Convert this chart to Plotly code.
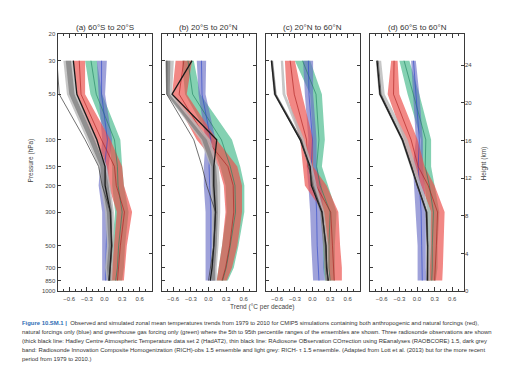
import plotly.graph_objects as go
import math

W, H = 518, 373

# ---------------- data ----------------
PRESSURE = [30, 50, 100, 150, 200, 300, 500, 700, 850]
P_TICKS = [20, 30, 50, 100, 150, 200, 300, 500, 700, 850, 1000]
KM_TICKS = [0, 4, 8, 12, 16, 20, 24]
X_TICKVALS = [-0.6, -0.3, 0.0, 0.3, 0.6]
X_TICKTEXT = ["\u22120.6", "\u22120.3", "0.0", "0.3", "0.6"]
PANEL_TITLES = ["(a) 60°S to 20°S", "(b) 20°S to 20°N", "(c) 20°N to 60°N", "(d) 60°S to 60°N"]

# (a) 60S-20S
A_RED_LO = [-0.53, -0.47, -0.21, 0.04, 0.07, 0.21, 0.16, 0.13, 0.10]
A_RED_HI = [-0.33, -0.33, 0.10, 0.30, 0.33, 0.47, 0.38, 0.35, 0.33]
A_RED_MID = [-0.43, -0.40, -0.05, 0.17, 0.20, 0.34, 0.27, 0.24, 0.22]
A_BLUE_LO = [-0.13, -0.10, -0.04, -0.07, -0.10, -0.04, -0.04, -0.04, -0.04]
A_BLUE_HI = [0.04, 0.01, 0.13, 0.07, 0.07, 0.13, 0.10, 0.10, 0.07]
A_BLUE_MID = [-0.05, -0.05, 0.05, 0.00, -0.02, 0.05, 0.03, 0.03, 0.02]
A_GREEN_LO = [-0.33, -0.24, 0.07, 0.13, 0.13, 0.18, 0.13, 0.10, 0.07]
A_GREEN_HI = [-0.13, -0.04, 0.27, 0.30, 0.33, 0.41, 0.35, 0.33, 0.30]
A_GREEN_MID = [-0.23, -0.14, 0.17, 0.22, 0.23, 0.30, 0.24, 0.22, 0.19]
A_LGREY_LO = [-0.70, -0.64, -0.30, -0.10, -0.07, 0.01, 0.04, 0.01, 0.04]
A_LGREY_HI = [-0.53, -0.47, -0.13, 0.04, 0.10, 0.16, 0.16, 0.14, 0.13]
A_DGREY_LO = [-0.66, -0.60, -0.26, -0.07, -0.04, 0.04, 0.07, 0.04, 0.06]
A_DGREY_HI = [-0.57, -0.51, -0.17, 0.01, 0.07, 0.13, 0.13, 0.11, 0.11]
A_HADAT2 = [-0.53, -0.47, -0.13, 0.01, 0.01, 0.10, 0.12, 0.10, 0.08]
A_RAOBCORE = [-0.81, -0.77, -0.33, -0.10, -0.04, 0.10, 0.13, 0.10, 0.07]

# (b) 20S-20N
B_RED_LO = [-0.56, -0.62, -0.20, 0.17, 0.26, 0.29, 0.23, 0.17, 0.14]
B_RED_HI = [-0.28, -0.37, 0.14, 0.49, 0.57, 0.57, 0.49, 0.40, 0.31]
B_RED_MID = [-0.42, -0.50, -0.03, 0.33, 0.42, 0.43, 0.36, 0.29, 0.23]
B_BLUE_LO = [-0.20, -0.17, -0.05, -0.08, -0.08, -0.05, -0.05, -0.05, -0.05]
B_BLUE_HI = [-0.04, -0.05, 0.12, 0.09, 0.12, 0.12, 0.12, 0.12, 0.12]
B_BLUE_MID = [-0.12, -0.11, 0.04, 0.01, 0.02, 0.04, 0.04, 0.04, 0.04]
B_GREEN_LO = [-0.45, -0.40, 0.03, 0.20, 0.29, 0.31, 0.23, 0.17, 0.14]
B_GREEN_HI = [-0.25, -0.14, 0.40, 0.54, 0.61, 0.61, 0.51, 0.43, 0.33]
B_GREEN_MID = [-0.35, -0.27, 0.22, 0.37, 0.45, 0.46, 0.37, 0.30, 0.24]
B_LGREY_LO = [-0.74, -0.72, -0.14, 0.03, 0.03, 0.06, 0.06, 0.03, 0.03]
B_LGREY_HI = [-0.59, -0.62, 0.03, 0.17, 0.20, 0.20, 0.17, 0.14, 0.14]
B_DGREY_LO = [-0.72, -0.71, -0.11, 0.05, 0.06, 0.09, 0.08, 0.05, 0.05]
B_DGREY_HI = [-0.65, -0.66, -0.03, 0.13, 0.15, 0.16, 0.14, 0.11, 0.11]
B_HADAT2 = [-0.28, -0.62, 0.14, 0.09, 0.09, 0.12, 0.09, 0.06, 0.03]
B_RAOBCORE = [-0.71, -0.71, -0.25, -0.11, -0.03, 0.12, 0.09, 0.03, 0.00]

# (c) 20N-60N
C_RED_LO = [-0.47, -0.44, -0.21, -0.16, -0.13, 0.18, 0.21, 0.21, 0.24]
C_RED_HI = [-0.30, -0.18, 0.01, 0.01, 0.24, 0.44, 0.47, 0.50, 0.50]
C_RED_MID = [-0.38, -0.31, -0.10, -0.08, 0.06, 0.31, 0.34, 0.36, 0.37]
C_BLUE_LO = [-0.16, -0.13, -0.07, -0.10, -0.07, -0.04, -0.02, 0.00, 0.01]
C_BLUE_HI = [0.01, 0.01, 0.07, 0.07, 0.16, 0.18, 0.18, 0.20, 0.21]
C_BLUE_MID = [-0.07, -0.06, 0.00, -0.02, 0.05, 0.07, 0.08, 0.10, 0.11]
C_GREEN_LO = [-0.30, -0.04, 0.01, -0.02, -0.02, 0.18, 0.18, 0.18, 0.21]
C_GREEN_HI = [-0.04, 0.16, 0.21, 0.16, 0.27, 0.41, 0.38, 0.38, 0.38]
C_GREEN_MID = [-0.17, 0.06, 0.11, 0.07, 0.13, 0.30, 0.28, 0.28, 0.30]
C_LGREY_LO = [-0.54, -0.51, -0.20, -0.05, 0.01, 0.13, 0.20, 0.21, 0.22]
C_LGREY_HI = [-0.50, -0.46, -0.14, 0.00, 0.07, 0.20, 0.27, 0.27, 0.29]
C_DGREY_LO = [-0.71, -0.66, -0.22, -0.07, -0.02, 0.13, 0.18, 0.21, 0.22]
C_DGREY_HI = [-0.67, -0.61, -0.18, -0.03, 0.03, 0.17, 0.24, 0.26, 0.27]
C_HADAT2 = [-0.70, -0.64, -0.21, -0.04, -0.02, 0.16, 0.23, 0.24, 0.27]
C_RAOBCORE = [-0.69, -0.63, -0.19, -0.06, 0.00, 0.17, 0.22, 0.25, 0.26]

# (d) 60S-60N
D_RED_LO = [-0.44, -0.50, -0.22, -0.10, 0.07, 0.24, 0.21, 0.18, 0.18]
D_RED_HI = [-0.33, -0.30, 0.01, 0.13, 0.30, 0.47, 0.45, 0.44, 0.43]
D_RED_MID = [-0.39, -0.40, -0.10, 0.02, 0.19, 0.35, 0.33, 0.31, 0.30]
D_BLUE_LO = [-0.10, -0.07, -0.02, -0.07, -0.05, -0.02, 0.01, 0.01, 0.01]
D_BLUE_HI = [-0.02, 0.04, 0.10, 0.10, 0.13, 0.15, 0.15, 0.15, 0.16]
D_BLUE_MID = [-0.06, -0.02, 0.04, 0.02, 0.04, 0.07, 0.08, 0.08, 0.09]
D_GREEN_LO = [-0.30, -0.16, 0.07, 0.04, 0.13, 0.18, 0.18, 0.18, 0.18]
D_GREEN_HI = [-0.13, 0.04, 0.24, 0.24, 0.30, 0.38, 0.35, 0.35, 0.32]
D_GREEN_MID = [-0.22, -0.06, 0.15, 0.14, 0.21, 0.28, 0.26, 0.26, 0.25]
D_LGREY_LO = [-0.65, -0.60, -0.23, -0.09, 0.01, 0.18, 0.18, 0.18, 0.18]
D_LGREY_HI = [-0.61, -0.55, -0.16, -0.02, 0.07, 0.24, 0.24, 0.22, 0.22]
D_DGREY_LO = [-0.70, -0.65, -0.27, -0.12, -0.02, 0.14, 0.16, 0.16, 0.16]
D_DGREY_HI = [-0.67, -0.61, -0.23, -0.08, 0.02, 0.18, 0.20, 0.19, 0.19]
D_HADAT2 = [-0.68, -0.63, -0.25, -0.10, 0.00, 0.16, 0.18, 0.18, 0.18]
D_RAOBCORE = [-0.66, -0.61, -0.24, -0.09, 0.00, 0.17, 0.18, 0.17, 0.17]

CAPTION_LINES = [
    "<span style='color:#2e6db4'><b>Figure 10.SM.1 |</b></span>  Observed and simulated zonal mean temperatures trends from 1979 to 2010 for CMIP5 simulations containing both anthropogenic and natural forcings (red),",
    "natural forcings only (blue) and greenhouse gas forcing only (green) where the 5th to 95th percentile ranges of the ensembles are shown. Three radiosonde observations are shown",
    "(thick black line: Hadley Centre Atmospheric Temperature data set 2 (HadAT2), thin black line: RAdiosone OBservation COrrection using REanalyses (RAOBCORE) 1.5, dark grey",
    "band: Radiosonde Innovation Composite Homogenization (RICH)-obs 1.5 ensemble and light grey: RICH- \u03c4 1.5 ensemble. (Adapted from Lott et al. (2013) but for the more recent",
    "period from 1979 to 2010.)",
]

PANELS = [
    dict(red=(A_RED_LO, A_RED_HI, A_RED_MID), blue=(A_BLUE_LO, A_BLUE_HI, A_BLUE_MID),
         green=(A_GREEN_LO, A_GREEN_HI, A_GREEN_MID), lgrey=(A_LGREY_LO, A_LGREY_HI),
         dgrey=(A_DGREY_LO, A_DGREY_HI), had=A_HADAT2, raob=A_RAOBCORE),
    dict(red=(B_RED_LO, B_RED_HI, B_RED_MID), blue=(B_BLUE_LO, B_BLUE_HI, B_BLUE_MID),
         green=(B_GREEN_LO, B_GREEN_HI, B_GREEN_MID), lgrey=(B_LGREY_LO, B_LGREY_HI),
         dgrey=(B_DGREY_LO, B_DGREY_HI), had=B_HADAT2, raob=B_RAOBCORE),
    dict(red=(C_RED_LO, C_RED_HI, C_RED_MID), blue=(C_BLUE_LO, C_BLUE_HI, C_BLUE_MID),
         green=(C_GREEN_LO, C_GREEN_HI, C_GREEN_MID), lgrey=(C_LGREY_LO, C_LGREY_HI),
         dgrey=(C_DGREY_LO, C_DGREY_HI), had=C_HADAT2, raob=C_RAOBCORE),
    dict(red=(D_RED_LO, D_RED_HI, D_RED_MID), blue=(D_BLUE_LO, D_BLUE_HI, D_BLUE_MID),
         green=(D_GREEN_LO, D_GREEN_HI, D_GREEN_MID), lgrey=(D_LGREY_LO, D_LGREY_HI),
         dgrey=(D_DGREY_LO, D_DGREY_HI), had=D_HADAT2, raob=D_RAOBCORE),
]

# ---------------- style ----------------
FONT = "Liberation Sans, Arial, sans-serif"
CAP_FONT = "Liberation Sans, Arial, sans-serif"
AX_COL = "#3a3a3a"
TXT_COL = "#444444"
STYLE = {
    "green": ("rgba(80,190,145,0.70)", "rgba(30,130,95,0.9)"),
    "blue": ("rgba(100,105,195,0.62)", "rgba(45,70,200,0.9)"),
    "red": ("rgba(236,80,75,0.68)", "rgba(170,30,30,0.9)"),
    "lgrey": ("rgba(185,185,185,0.80)", None),
    "dgrey": ("rgba(125,125,125,0.75)", None),
}

X_DOM_PX = [(57.5, 151.5), (161.5, 255.5), (265.5, 359.5), (370.0, 464.0)]
Y_TOP_PX, Y_BOT_PX = 31.5, 293.0
y_dom = [1 - Y_BOT_PX / H, 1 - Y_TOP_PX / H]
KM_TOP = 27.3

fig = go.Figure()
layout = dict(width=W, height=H, margin=dict(l=0, r=0, t=0, b=0),
              paper_bgcolor="white", plot_bgcolor="white", showlegend=False,
              font=dict(family=FONT, size=6, color=TXT_COL))
annotations = []

for i, pan in enumerate(PANELS):
    n = i + 1
    xa = "x" if n == 1 else f"x{n}"
    ya = "y" if n == 1 else f"y{n}"
    ykm_n = n + 4
    x0, x1 = X_DOM_PX[i]
    dom = [x0 / W, x1 / W]

    def band(lo, hi, fillc):
        fig.add_trace(go.Scatter(x=list(lo) + list(hi)[::-1],
                                 y=PRESSURE + PRESSURE[::-1],
                                 fill="toself", fillcolor=fillc, mode="lines",
                                 line=dict(width=0), hoverinfo="skip",
                                 xaxis=xa, yaxis=ya))

    for key in ["green", "blue", "red"]:
        lo, hi, mid = pan[key]
        band(lo, hi, STYLE[key][0])
    for key in ["green", "blue", "red"]:
        lo, hi, mid = pan[key]
        fig.add_trace(go.Scatter(x=mid, y=PRESSURE, mode="lines",
                                 line=dict(color=STYLE[key][1], width=0.7),
                                 hoverinfo="skip", xaxis=xa, yaxis=ya))
    band(*pan["lgrey"], STYLE["lgrey"][0])
    band(*pan["dgrey"], STYLE["dgrey"][0])
    fig.add_trace(go.Scatter(x=pan["had"], y=PRESSURE, mode="lines",
                             line=dict(color="#1a1a1a", width=1.3),
                             xaxis=xa, yaxis=ya))
    fig.add_trace(go.Scatter(x=pan["raob"], y=PRESSURE, mode="lines",
                             line=dict(color="#333333", width=0.7),
                             xaxis=xa, yaxis=ya))

    xkey = "xaxis" if n == 1 else f"xaxis{n}"
    ykey = "yaxis" if n == 1 else f"yaxis{n}"
    layout[xkey] = dict(domain=dom, anchor=ya, range=[-0.8, 0.8],
                        tickvals=X_TICKVALS, ticktext=X_TICKTEXT,
                        ticks="inside", ticklen=4, tickwidth=0.8, tickcolor=AX_COL,
                        minor=dict(dtick=0.1, tick0=0, ticks="inside", ticklen=2.5,
                                   tickwidth=0.8, tickcolor=AX_COL, showgrid=False),
                        showline=True, linecolor=AX_COL, linewidth=1, mirror="ticks",
                        showgrid=False, zeroline=False, ticklabelstandoff=2,
                        tickfont=dict(size=6, color=TXT_COL))
    layout[ykey] = dict(domain=y_dom, anchor=xa, type="log",
                        range=[math.log10(1000), math.log10(20)],
                        tickvals=P_TICKS, ticktext=[str(p) for p in P_TICKS],
                        showticklabels=(n == 1),
                        ticks="inside", ticklen=3, tickwidth=0.8, tickcolor=AX_COL,
                        showline=True, linecolor=AX_COL, linewidth=1, mirror=True,
                        showgrid=False, zeroline=False,
                        tickfont=dict(size=6, color=TXT_COL))
    layout[f"yaxis{ykm_n}"] = dict(overlaying=ya, anchor=xa, side="right",
                                   range=[0, KM_TOP], tickvals=KM_TICKS,
                                   showticklabels=(n == 4),
                                   ticks="inside", ticklen=3, tickwidth=0.8,
                                   tickcolor=AX_COL, showline=False,
                                   showgrid=False, zeroline=False,
                                   tickfont=dict(size=6, color=TXT_COL))
    fig.add_trace(go.Scatter(x=[None], y=[None], xaxis=xa, yaxis=f"y{ykm_n}",
                             hoverinfo="skip"))
    annotations.append(dict(text=PANEL_TITLES[i], x=(x0 + x1) / 2 / W, y=1 - 25 / H,
                            xref="paper", yref="paper", xanchor="center", yanchor="middle",
                            showarrow=False, font=dict(size=8, color="#333333")))

annotations.append(dict(text="Pressure (hPa)", x=31 / W, y=1 - 160 / H, xref="paper",
                        yref="paper", textangle=-90, showarrow=False,
                        xanchor="center", yanchor="middle",
                        font=dict(size=6.5, color=TXT_COL)))
annotations.append(dict(text="Height (km)", x=484 / W, y=1 - 163 / H, xref="paper",
                        yref="paper", textangle=-90, showarrow=False,
                        xanchor="center", yanchor="middle",
                        font=dict(size=6.5, color=TXT_COL)))
annotations.append(dict(text="Trend (°C per decade)", x=262 / W, y=1 - 308.5 / H,
                        xref="paper", yref="paper", showarrow=False,
                        xanchor="center", yanchor="middle",
                        font=dict(size=6.5, color=TXT_COL)))

for k, line in enumerate(CAPTION_LINES):
    annotations.append(dict(text=line, x=20 / W, y=1 - (325 + 9.2 * k) / H,
                            xref="paper", yref="paper", xanchor="left", yanchor="middle",
                            showarrow=False, font=dict(family=CAP_FONT, size=5.9, color="#333333")))

layout["annotations"] = annotations
fig.update_layout(**layout)
fig.write_html("out.html", config={"displayModeBar": False},
               post_script="document.body.style.margin='0px';document.body.style.padding='0px';")
